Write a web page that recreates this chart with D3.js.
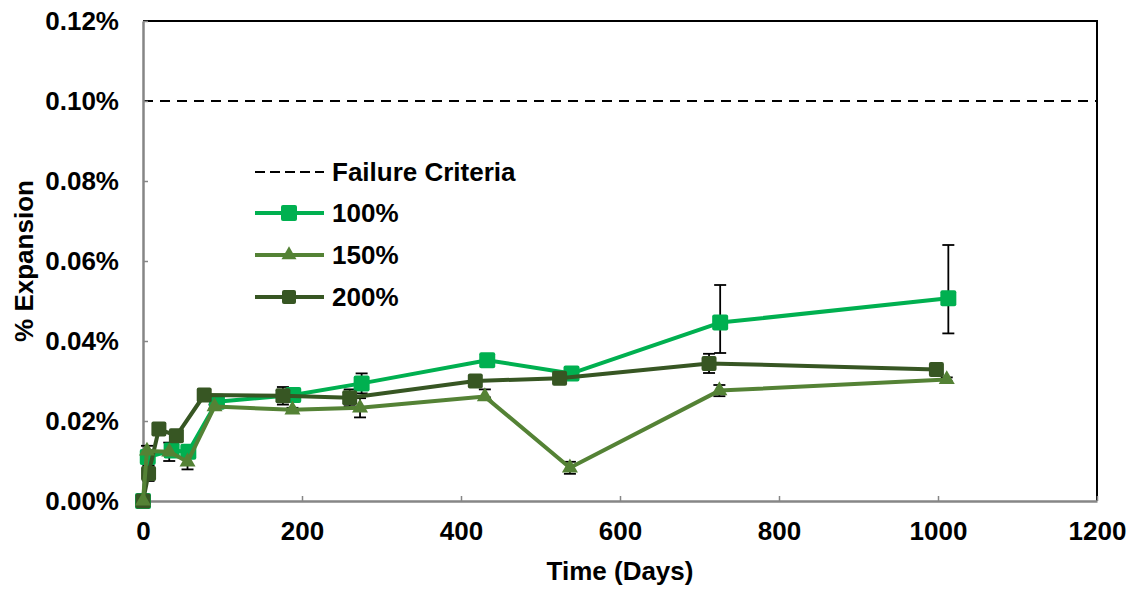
<!DOCTYPE html>
<html>
<head>
<meta charset="utf-8">
<script src="https://cdn.jsdelivr.net/npm/d3@7"></script>
<style>
  html, body { margin: 0; padding: 0; background: #fff; }
  svg { display: block; font-family: "Liberation Sans", Arial, sans-serif; font-weight: bold; }
</style>
</head>
<body>
<svg id="chart" width="1133" height="589"></svg>
<script>
// ---- data ----
const xTicks = [0, 200, 400, 600, 800, 1000, 1200];
const yTicks = [0, 0.02, 0.04, 0.06, 0.08, 0.10, 0.12];
const failureCriteria = 0.10;

const seriesNames = ["100%", "150%", "200%"];

const days100 = [0, 6, 36, 57, 93, 189, 275, 433, 539, 726, 1013];
const vals100 = [0, 0.0110, 0.0126, 0.0123, 0.0248, 0.0265, 0.0294, 0.0352, 0.0319, 0.0446, 0.0507];
const errUp100 = [0, 0.0005, 0.0005, 0.0005, 0.0003, 0.0003, 0.0025, 0.0003, 0.0003, 0.0094, 0.0133];
const errDn100 = [0, 0.0005, 0.0005, 0.0005, 0.0003, 0.0003, 0.0025, 0.0003, 0.0003, 0.0076, 0.0088];

const days150 = [0, 5, 33, 56, 90, 188, 273, 430, 537, 725, 1011];
const vals150 = [0, 0.0125, 0.0123, 0.0098, 0.0236, 0.0228, 0.0233, 0.0261, 0.0083, 0.0276, 0.0304];
const errUp150 = [0, 0.0013, 0.0023, 0.0019, 0.0005, 0.0005, 0.0024, 0.0018, 0.0015, 0.0014, 0.0005];
const errDn150 = [0, 0.0013, 0.0023, 0.0019, 0.0005, 0.0005, 0.0024, 0.0002, 0.0015, 0.0014, 0.0005];

const days200 = [0, 7, 20, 42, 77, 176, 260, 418, 524, 712, 998];
const vals200 = [0, 0.0069, 0.0180, 0.0163, 0.0265, 0.0263, 0.0258, 0.0300, 0.0307, 0.0344, 0.0329];
const err200 = [0, 0.0019, 0.0005, 0.0008, 0.0005, 0.0022, 0.0021, 0.0005, 0.0005, 0.0024, 0.0003];

// ---- build ----
const colors = { "100%": "#00B050", "150%": "#548235", "200%": "#375623" };
const series = [
  { name: "100%", pts: days100.map((d, i) => ({ x: d, y: vals100[i], up: errUp100[i], dn: errDn100[i] })), shape: "square", size: 16 },
  { name: "200%", pts: days200.map((d, i) => ({ x: d, y: vals200[i], up: err200[i], dn: err200[i] })), shape: "square", size: 15 },
  { name: "150%", pts: days150.map((d, i) => ({ x: d, y: vals150[i], up: errUp150[i], dn: errDn150[i] })), shape: "triangle", size: 16 }
];

const svg = d3.select("#chart");
const L = 143, R = 1097, T = 21, B = 501;
const x = d3.scaleLinear().domain([0, 1200]).range([L, R]);
const y = d3.scaleLinear().domain([0, 0.12]).range([B, T]);

// top/right border
svg.append("path")
  .attr("d", `M${L},${T}H${R}V${B}`)
  .attr("fill", "none").attr("stroke", "#000").attr("stroke-width", 2);

// failure criteria line
svg.append("line")
  .attr("x1", L).attr("x2", R)
  .attr("y1", y(failureCriteria)).attr("y2", y(failureCriteria))
  .attr("stroke", "#000").attr("stroke-width", 2).attr("stroke-dasharray", "10,7");

// axes
const yAxis = svg.append("g").attr("transform", `translate(${L},0)`)
  .call(d3.axisLeft(y).tickValues(yTicks).tickSize(-5).tickSizeOuter(0).tickPadding(24)
    .tickFormat(d => d.toFixed(2) + "%"));
const xAxis = svg.append("g").attr("transform", `translate(0,${B})`)
  .call(d3.axisBottom(x).tickValues(xTicks).tickSize(-5).tickSizeOuter(0).tickPadding(21)
    .tickFormat(d3.format("d")));
[yAxis, xAxis].forEach(g => {
  g.select(".domain").attr("stroke", "#868686").attr("stroke-width", 2.5);
  g.selectAll(".tick line").attr("stroke", "#868686").attr("stroke-width", 1.5);
  g.selectAll(".tick text").attr("fill", "#000").style("font-size", "26px")
    .style("font-family", "'Liberation Sans', Arial, sans-serif").style("font-weight", "bold");
});

// axis titles
svg.append("text").attr("x", 620).attr("y", 580).attr("text-anchor", "middle")
  .style("font-size", "26px").text("Time (Days)");
svg.append("text").attr("transform", "translate(33,261) rotate(-90)").attr("text-anchor", "middle")
  .style("font-size", "26px").text("% Expansion");

const line = d3.line().x(d => x(d.x)).y(d => y(d.y));
const tri = d3.symbol().type(d3.symbolTriangle);

function drawMarker(g, shape, size, color) {
  if (shape === "square") {
    g.append("rect").attr("x", -size / 2).attr("y", -size / 2).attr("width", size).attr("height", size)
      .attr("rx", 2).attr("fill", color);
  } else {
    const area = size * size * Math.sqrt(3) / 4;
    g.append("path").attr("d", tri.size(area)()).attr("fill", color);
  }
}

// error bars first
series.forEach(s => {
  const eg = svg.append("g").attr("stroke", "#000").attr("stroke-width", 1.8);
  s.pts.filter(p => p.up > 0 || p.dn > 0).forEach(p => {
    const cx = x(p.x), y1 = y(p.y + p.up), y2 = y(p.y - p.dn);
    eg.append("line").attr("x1", cx).attr("x2", cx).attr("y1", y1).attr("y2", y2);
    eg.append("line").attr("x1", cx - 6).attr("x2", cx + 6).attr("y1", y1).attr("y2", y1);
    eg.append("line").attr("x1", cx - 6).attr("x2", cx + 6).attr("y1", y2).attr("y2", y2);
  });
});

// series
series.forEach(s => {
  const c = colors[s.name];
  svg.append("path").datum(s.pts).attr("d", line)
    .attr("fill", "none").attr("stroke", c).attr("stroke-width", 4).attr("stroke-linejoin", "round");
  s.pts.forEach(p => {
    const g = svg.append("g").attr("transform", `translate(${x(p.x)},${y(p.y)})`);
    drawMarker(g, s.shape, s.size, c);
  });
});

// legend
const lg = svg.append("g");
const legendRows = [
  { label: "Failure Criteria", y: 172, dashed: true },
  { label: "100%", y: 213, shape: "square", size: 16 },
  { label: "150%", y: 255, shape: "triangle", size: 15 },
  { label: "200%", y: 297, shape: "square", size: 14 }
];
legendRows.forEach(r => {
  const color = r.dashed ? "#000" : colors[r.label];
  lg.append("line").attr("x1", 255).attr("x2", 324).attr("y1", r.y).attr("y2", r.y)
    .attr("stroke", color).attr("stroke-width", r.dashed ? 2 : 4)
    .attr("stroke-dasharray", r.dashed ? "10,5" : null);
  if (!r.dashed) {
    const g = lg.append("g").attr("transform", `translate(289,${r.y})`);
    drawMarker(g, r.shape, r.size, color);
  }
  lg.append("text").attr("x", 332).attr("y", r.y).attr("dy", "0.36em")
    .style("font-size", "26px").text(r.label);
});
</script>
</body>
</html>
